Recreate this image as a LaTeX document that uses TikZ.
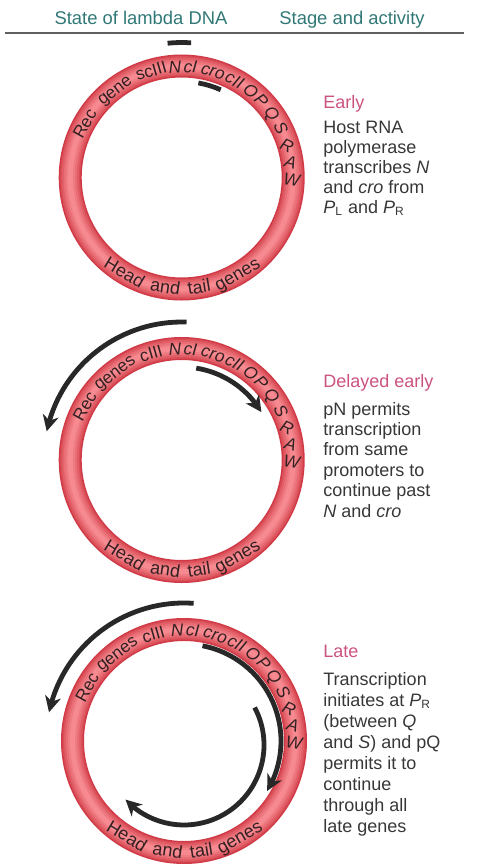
\documentclass[tikz,border=0pt]{standalone}
\usepackage{fontspec}
\setmainfont{Liberation Sans}
\usepackage{tikz}
\usetikzlibrary{
  arrows.meta,
  bending,
  calc
}

\definecolor{headteal}{RGB}{48,120,118}
\definecolor{stagepink}{RGB}{204,82,128}
\definecolor{bodygray}{RGB}{55,55,55}
\definecolor{genetext}{RGB}{52,32,34}
\definecolor{ringdark}{RGB}{208,58,70}
\definecolor{ringlight}{RGB}{246,138,144}
\definecolor{arrowgray}{RGB}{40,40,40}

\newcommand{\genefont}{\fontsize{8.6}{10}\selectfont}
\newcommand{\tailfont}{\fontsize{9}{10}\selectfont}

\tikzset{
  headtxt/.style={text=headteal, font=\fontsize{9.2}{11}\selectfont, inner sep=0pt, anchor=base},
  stagetitle/.style={text=stagepink, font=\fontsize{9}{10}\selectfont, inner sep=0pt, anchor=base west},
  stagetxt/.style={text=bodygray, inner sep=0pt, anchor=base west, align=left},
  gene/.style={text=genetext, font=\genefont, inner sep=0pt, anchor=base},
  genelt/.style={text=genetext, font=\genefont\itshape, inner sep=0pt, anchor=center},
  tailword/.style={text=genetext, font=\tailfont, inner sep=0pt, anchor=base},
  transcript/.style={draw=arrowgray, line width=2.4pt},
  rnatip/.style={-{Stealth[length=8pt, width=8pt, inset=2.5pt]}}
}

\begin{document}
\begin{tikzpicture}[x=0.5pt, y=0.5pt]
  \useasboundingbox (0,0) rectangle (477,-867);

  % Cabecalho
  \node[headtxt] (hstate) at (141,-25) {State of lambda DNA};
  \node[headtxt] (hstage) at (352,-25) {Stage and activity};
  \draw[gray!75!black, line width=1pt] (5,-32.5) -- (464,-32.5);

  % Aneis do DNA de lambda
  \foreach \nm/\cx/\cy/\recw/\ciii in {a/181.7/177.5/gene/scIII, b/181.7/460/genes/cIII, c/184/741/genes/cIII}{
    \begin{scope}[shift={(\cx,-\cy)}]
      \foreach \w/\p in {11.5/0, 10/25, 8.5/45, 6.5/65, 4.5/82, 2.5/100}
        \draw[line width=\w pt, ringlight!\p!ringdark] (0,0) circle (111.5);
      \node[gene, rotate=61] (\nm-rec) at (151:105) {Rec};
      \node[gene, rotate=37.5] (\nm-gene) at (127.5:105) {\recw};
      \node[gene, rotate=16] (\nm-ciii) at (106:105) {\ciii};
      \foreach \ang/\lbl in {93.5/N, 85.5/cI, 73.5/cro, 61.5/cII, 51.5/O, 44/P, 35.5/Q, 26.5/S}
        \node[gene, font=\genefont\itshape, rotate=\ang-90] (\nm-\lbl) at (\ang:105) {\lbl};
      \node[genelt, rotate=-25] (\nm-R) at (17:110) {R};
      \node[genelt, rotate=-15] (\nm-A) at (8:110) {A};
      \node[genelt, rotate=-8] (\nm-W) at (-1:110) {W};
      % genes da cabeca e da cauda, na parte de baixo
      \foreach \ang/\lbl in {239/Head, 261.5/and, 279/tail, 300/genes}
        \node[tailword, rotate=\ang+90] (\nm-\lbl) at (\ang:117) {\lbl};
    \end{scope}
  }

  % Early: transcritos curtos
  \begin{scope}[shift={(181.7,-177.5)}]
    \draw[transcript] (96:135) arc (96:86:135);
    \draw[transcript] (80:96) arc (80:66:96);
  \end{scope}

  % Delayed early
  \begin{scope}[shift={(181.7,-460)}]
    \draw[transcript, rnatip] (88:138) arc (88:168:138);
    \draw[transcript, rnatip] (81:93) arc (81:31:93);
  \end{scope}

  % Late
  \begin{scope}[shift={(184,-741)}]
    \draw[transcript, rnatip] (86:138) arc (86:168:138);
    \draw[transcript, rnatip] (79:97) arc (79:-31:97);
    \draw[transcript, rnatip] ($(28:80)+(0,-4)$) arc (28:-137:80);
  \end{scope}

  % Textos das etapas (ancorados na ultima linha)
  \node[stagetitle] (early) at (323,-108) {Early};
  \node[stagetxt, font=\fontsize{9}{9.9}\selectfont] (earlytxt) at (323,-213) {Host RNA\\polymerase\\transcribes \textit{N}\\and \textit{cro} from\\\textit{P}\textsubscript{L} and \textit{P}\textsubscript{R}};

  \node[stagetitle] (delayed) at (323,-387) {Delayed early};
  \node[stagetxt, font=\fontsize{9}{10.2}\selectfont] (delayedtxt) at (323,-517) {pN permits\\transcription\\from same\\promoters to\\continue past\\\textit{N} and \textit{cro}};

  \node[stagetitle] (late) at (323,-657) {Late};
  \node[stagetxt, font=\fontsize{9}{10.5}\selectfont] (latetxt) at (323,-832) {Transcription\\initiates at \textit{P}\textsubscript{R}\\(between \textit{Q}\\and \textit{S}) and pQ\\permits it to\\continue\\through all\\late genes};
\end{tikzpicture}
\end{document}
